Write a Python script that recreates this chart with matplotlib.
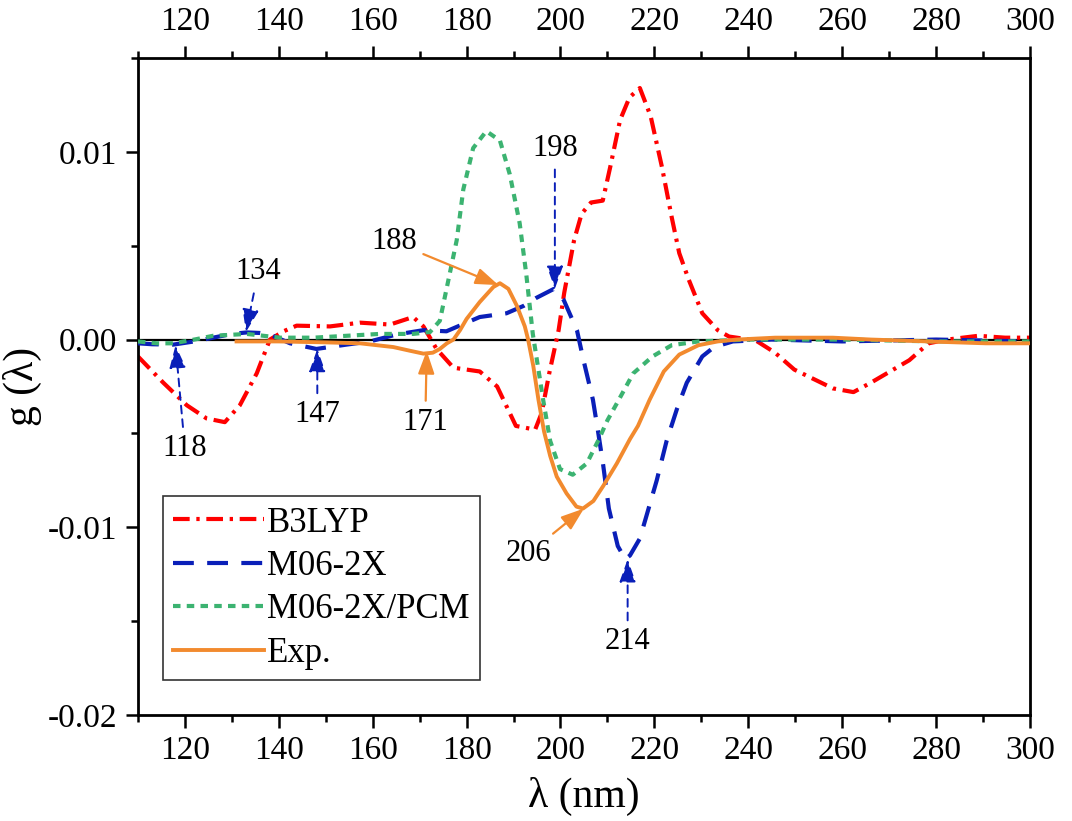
import numpy as np
import matplotlib
matplotlib.use("Agg")
import matplotlib.pyplot as plt

plt.rcParams['font.family'] = ['Liberation Serif', 'DejaVu Serif']

# data
b3lyp_x = [110, 115.4, 120.4, 124.6, 128.5, 131.7, 135.3, 138.1, 141, 143.8, 150.9, 157.3, 163.7, 168.6,
           170.8, 173.6, 177.2, 182.8, 186.5, 190.5, 194.6, 196, 197.6, 199.6, 200.8, 202.9, 204.5, 206.5,
           209, 210.6, 212.7, 214.7, 216.9, 219.2, 221.6, 223.7, 225.3, 227.3, 230.2, 233.5, 235.9, 241.6,
           245.7, 249.8, 253.9, 258, 262.4, 266.1, 270.2, 274.3, 278.4, 282.4, 289, 294.7, 300]
b3lyp_y = [-0.0009, -0.0023, -0.0035, -0.0042, -0.0044, -0.0035, -0.0018, 0.0, 0.00044, 0.00074, 0.0007,
           0.0009, 0.0008, 0.0012, 0.0007, -0.0005, -0.0015, -0.0017, -0.0025, -0.0046, -0.0048, -0.0039,
           -0.0018, 0.0005, 0.0025, 0.0053, 0.0067, 0.0073, 0.0074, 0.0092, 0.0117, 0.0129, 0.0134, 0.0119,
           0.0092, 0.0065, 0.0046, 0.0032, 0.0014, 0.0005, 0.00016, -0.00005, -0.0007, -0.0016, -0.0021,
           -0.0026, -0.0028, -0.0023, -0.0017, -0.0011, -0.0002, 0.0, 0.0002, 0.0001, 0.0001]

m062x_x = [110, 113, 117.5, 122, 126, 130, 133.2, 136, 138.1, 142.4, 148, 154.4, 159.4, 165.1, 170.8, 175.7,
           182.8, 188.5, 192.2, 194.7, 198.6, 200.7, 203.5, 204.9, 206.9, 208, 209.1, 210.3, 212.2, 213.8,
           214.8, 216.9, 218.3, 220.5, 222.6, 224.8, 226.9, 230.2, 232.7, 236.7, 245, 260, 280, 300]
m062x_y = [-0.0002, -0.00025, -0.00027, -0.0001, 0.0001, 0.0003, 0.00038, 0.00035, 0.00027, -0.0002, -0.0005,
           -0.00027, -0.0001, 0.00027, 0.0005, 0.00044, 0.0012, 0.0014, 0.0018, 0.0022, 0.0027, 0.0021, 0.0005,
           -0.0011, -0.0032, -0.0049, -0.0067, -0.009, -0.011, -0.0117, -0.0115, -0.0106, -0.0094, -0.0075,
           -0.0054, -0.0037, -0.0023, -0.0009, -0.0004, -0.0001, 0.0, -0.0001, 0.0, -0.0001]

pcm_x = [110, 114, 117.5, 122, 126, 133.2, 140.3, 147.4, 154.4, 161.5, 168.6, 172.2, 174.3, 176.4, 177.9,
         179.3, 181.4, 184.2, 187.1, 189.2, 191.3, 192.7, 194.1, 196.3, 197.8, 199.9, 202.6, 205.6, 208.2,
         210, 212, 215.5, 219.6, 223.7, 229.4, 240, 260, 280, 300]
pcm_y = [-0.0001, -0.0002, -0.0002, 0.0, 0.0002, 0.0003, 0.0001, 0.0001, 0.0002, 0.0003, 0.0003, 0.0004,
         0.001, 0.0035, 0.0053, 0.008, 0.0102, 0.0111, 0.0106, 0.0088, 0.0062, 0.0035, 0.0003, -0.0032,
         -0.0054, -0.0069, -0.0072, -0.0066, -0.0053, -0.0043, -0.0034, -0.0018, -0.0009, -0.0003, -0.0001,
         0.0, 0.0, -0.0001, -0.0001]

exp_x = [131, 140, 150, 157.3, 164.4, 168, 170.8, 172.8, 174.3, 175.8, 177.2, 178.6, 180, 182.8, 185.7,
         187.1, 188.9, 190.7, 192.4, 193.1, 194.2, 195.3, 196.5, 197.8, 199.2, 201.3, 203.4, 204.8, 207,
         209.1, 212, 214.8, 216.5, 219, 222, 225.3, 229.4, 233.5, 237.6, 245.7, 258, 266.1, 278.4, 290.6, 300]
exp_y = [-0.0001, -0.0001, -0.00015, -0.0002, -0.0004, -0.0006, -0.00075, -0.0007, -0.0005, -0.0002, 0.0,
         0.0005, 0.0011, 0.002, 0.0028, 0.003, 0.0027, 0.0018, 0.0007, 0.0, -0.0014, -0.0032, -0.0049, -0.0062,
         -0.0073, -0.0082, -0.0089, -0.009, -0.0086, -0.0078, -0.0066, -0.0053, -0.0046, -0.0032, -0.0017,
         -0.0008, -0.0003, -0.0001, 0.0, 0.0001, 0.0001, 0.0, -0.0001, -0.0002, -0.0002]

# annotations: label, arrow tip (x, y), text (x, y)
blue_notes = [("118", (118, -0.0003), (120, -0.0058)),
              ("134", (133, 0.0004), (135.6, 0.0036)),
              ("147", (148.2, -0.0005), (148.2, -0.0040)),
              ("198", (198.8, 0.0027), (198.8, 0.0102)),
              ("214", (214.3, -0.0117), (214.3, -0.0161))]
orange_notes = [("171", (171.5, -0.0006), (171.2, -0.0044)),
                ("188", (186.8, 0.0029), (164.5, 0.0052)),
                ("206", (205.0, -0.0090), (193.2, -0.0114))]

RED = "#ff0000"
BLUE = "#0a1fb8"
GREEN = "#3cb371"
ORANGE = "#f28a2e"

fig = plt.figure(figsize=(10.72, 8.21), dpi=100)
ax = fig.add_axes([0.1287, 0.1291, 0.8321, 0.8003])

ax.axhline(0, color="black", lw=1.6, zorder=1)
ax.plot(b3lyp_x, b3lyp_y, color=RED, lw=3, dashes=(4, 1.6, 0.8, 1.6), label="B3LYP", zorder=2)
ax.plot(m062x_x, m062x_y, color=BLUE, lw=3, dashes=(5, 3.2), label="M06-2X", zorder=3)
ax.plot(pcm_x, pcm_y, color=GREEN, lw=3, dashes=(1.8, 1.5), label="M06-2X/PCM", zorder=4)
ax.plot(exp_x, exp_y, color=ORANGE, lw=2.8, label="Exp.", zorder=5)

head = "-|>,head_length=0.7,head_width=0.25"
for lab, tip, txt in blue_notes:
    ax.annotate(lab, xy=tip, xytext=txt, fontsize=22, ha="center", va="center",
                arrowprops=dict(arrowstyle=head, color=BLUE, lw=1.4, ls=(0, (4, 3)),
                                mutation_scale=20, shrinkA=3, shrinkB=0), zorder=6)
for lab, tip, txt in orange_notes:
    ax.annotate(lab, xy=tip, xytext=txt, fontsize=22, ha="center", va="center",
                arrowprops=dict(arrowstyle=head, color=ORANGE, lw=1.6,
                                mutation_scale=20, shrinkA=3, shrinkB=0), zorder=6)

ax.set_xlim(110, 300)
ax.set_ylim(-0.02, 0.015)
ax.set_xticks(np.arange(120, 301, 20))
ax.set_xticks(np.arange(110, 301, 10), minor=True)
ax.set_yticks([-0.02, -0.01, 0.0, 0.01])
ax.set_yticklabels(["-0.02", "-0.01", "0.00", "0.01"])
ax.set_yticks(np.arange(-0.02, 0.0151, 0.005), minor=True)

ax.tick_params(axis="x", which="both", direction="out", top=True, labeltop=True, labelsize=24, pad=6)
ax.tick_params(axis="y", which="both", direction="out", right=False, labelsize=24, pad=6)
ax.tick_params(which="major", length=9, width=1.8)
ax.tick_params(which="minor", length=5, width=1.8)
for s in ax.spines.values():
    s.set_linewidth(2)

ax.set_xlabel("λ (nm)", fontsize=30, labelpad=8)
ax.set_ylabel("g (λ)", fontsize=30, labelpad=4)

leg = ax.legend(loc="lower left", bbox_to_anchor=(0.028, 0.053), fontsize=25, frameon=True, fancybox=False,
                edgecolor="black", handlelength=2.6, handletextpad=0.1, borderpad=0.3, labelspacing=0.3,
                borderaxespad=0)
leg.get_frame().set_linewidth(1.2)

fig.savefig("out.png", dpi=100)
